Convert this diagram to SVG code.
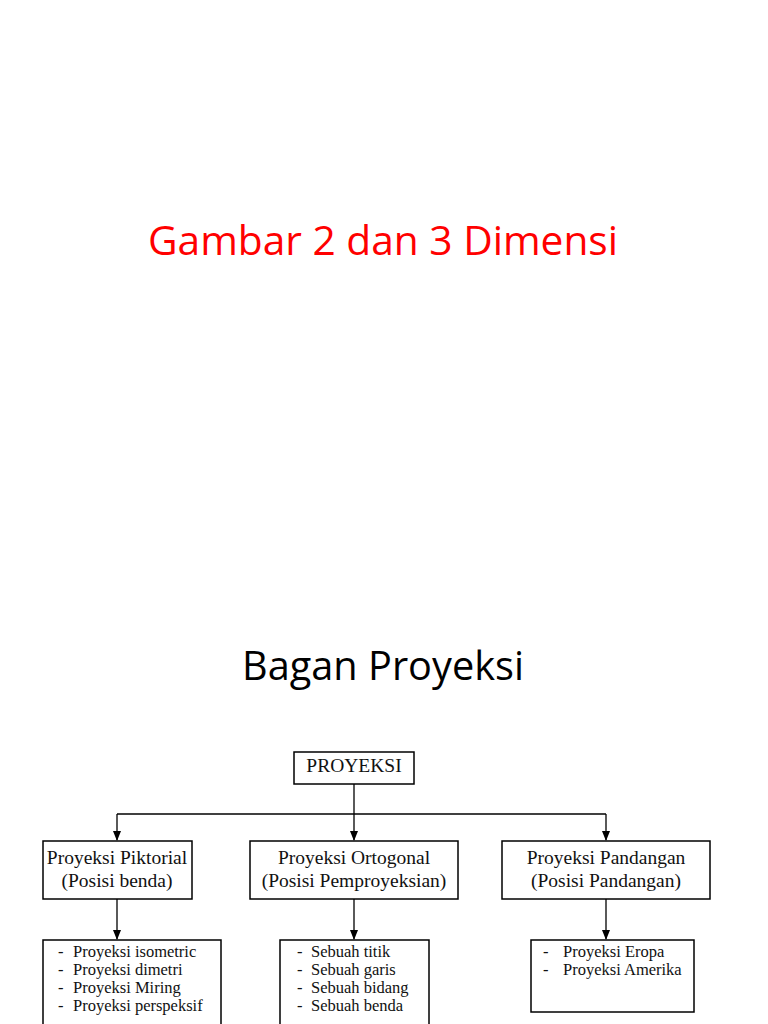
<svg xmlns="http://www.w3.org/2000/svg" width="768" height="1024" viewBox="0 0 768 1024">
<style>
.title{font-family:"Open Sans","Liberation Sans",sans-serif;font-size:40px;text-anchor:middle}
.box{fill:#fff;stroke:#000;stroke-width:1.5}
.hd{font-family:"Liberation Serif","Times New Roman",serif;font-size:19.5px;text-anchor:middle;fill:#111}
.it{font-family:"Liberation Serif","Times New Roman",serif;font-size:16.5px;fill:#111}
.ln{stroke:#000;stroke-width:1.3;fill:none}
</style>
<defs>
<marker id="ah" markerWidth="10" markerHeight="10" refX="9" refY="5" orient="auto" markerUnits="userSpaceOnUse">
<path d="M0,1 L10,5 L0,9 Z" fill="#000"/>
</marker>
</defs>
<rect width="768" height="1024" fill="#fff"/>
<text class="title" x="383" y="255" fill="#ff0000" textLength="470" lengthAdjust="spacingAndGlyphs">Gambar 2 dan 3 Dimensi</text>
<text class="title" x="383" y="680" fill="#000" textLength="282" lengthAdjust="spacingAndGlyphs">Bagan Proyeksi</text>
<g id="connectors">
<line class="ln" x1="354" y1="784" x2="354" y2="840" marker-end="url(#ah)"/>
<line class="ln" x1="117" y1="814" x2="606" y2="814"/>
<line class="ln" x1="117" y1="814" x2="117" y2="840" marker-end="url(#ah)"/>
<line class="ln" x1="606" y1="814" x2="606" y2="840" marker-end="url(#ah)"/>
<line class="ln" x1="117" y1="899" x2="117" y2="939" marker-end="url(#ah)"/>
<line class="ln" x1="354" y1="899" x2="354" y2="939" marker-end="url(#ah)"/>
<line class="ln" x1="606" y1="899" x2="606" y2="939" marker-end="url(#ah)"/>
</g>
<g id="proyeksi">
<rect class="box" x="294" y="752" width="120" height="32"/>
<text class="hd" x="354" y="772">PROYEKSI</text>
</g>
<g id="piktorial">
<rect class="box" x="43" y="841" width="149" height="58"/>
<text class="hd" x="117" y="864">Proyeksi Piktorial</text>
<text class="hd" x="117" y="887">(Posisi benda)</text>
</g>
<g id="ortogonal">
<rect class="box" x="250" y="841" width="208" height="58"/>
<text class="hd" x="354" y="864">Proyeksi Ortogonal</text>
<text class="hd" x="354" y="887">(Posisi Pemproyeksian)</text>
</g>
<g id="pandangan">
<rect class="box" x="502" y="841" width="208" height="58"/>
<text class="hd" x="606" y="864">Proyeksi Pandangan</text>
<text class="hd" x="606" y="887">(Posisi Pandangan)</text>
</g>
<g id="piktorial-list">
<rect class="box" x="43" y="940" width="178" height="100"/>
<text class="it" x="58" y="957">-</text><text class="it" x="73" y="957">Proyeksi isometric</text>
<text class="it" x="58" y="975">-</text><text class="it" x="73" y="975">Proyeksi dimetri</text>
<text class="it" x="58" y="993">-</text><text class="it" x="73" y="993">Proyeksi Miring</text>
<text class="it" x="58" y="1011">-</text><text class="it" x="73" y="1011">Proyeksi perspeksif</text>
</g>
<g id="ortogonal-list">
<rect class="box" x="280" y="940" width="149" height="100"/>
<text class="it" x="297" y="957">-</text><text class="it" x="311" y="957">Sebuah titik</text>
<text class="it" x="297" y="975">-</text><text class="it" x="311" y="975">Sebuah garis</text>
<text class="it" x="297" y="993">-</text><text class="it" x="311" y="993">Sebuah bidang</text>
<text class="it" x="297" y="1011">-</text><text class="it" x="311" y="1011">Sebuah benda</text>
</g>
<g id="pandangan-list">
<rect class="box" x="531" y="940" width="163" height="72"/>
<text class="it" x="543" y="957">-</text><text class="it" x="563" y="957">Proyeksi Eropa</text>
<text class="it" x="543" y="975">-</text><text class="it" x="563" y="975">Proyeksi Amerika</text>
</g>
</svg>
